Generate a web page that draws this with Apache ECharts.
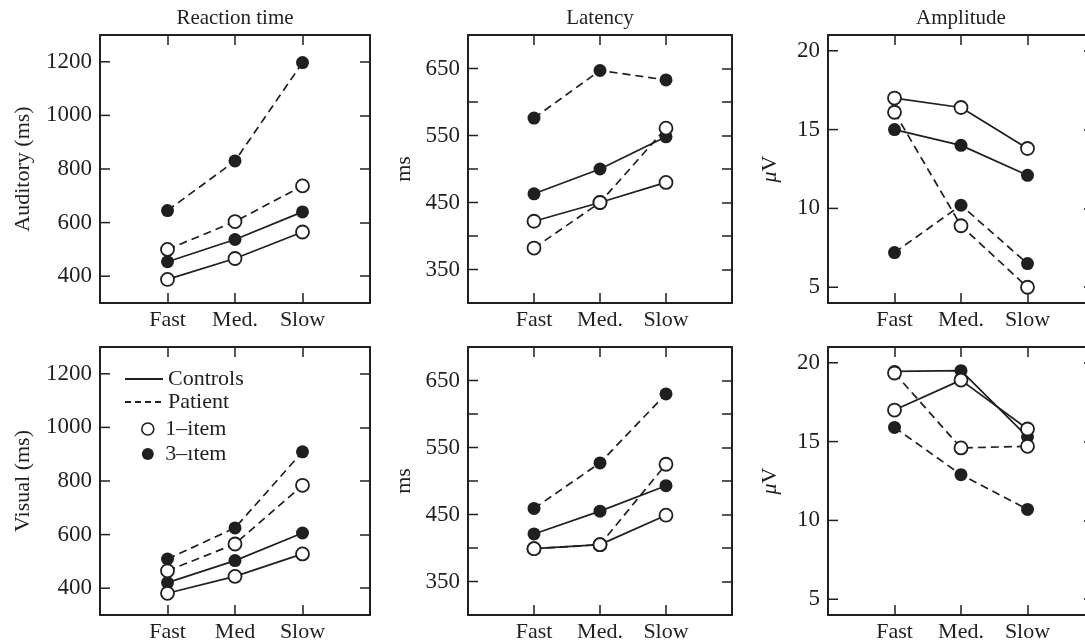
<!DOCTYPE html>
<html>
<head>
<meta charset="utf-8">
<script src="https://cdn.jsdelivr.net/npm/echarts@6/dist/echarts.min.js"></script>
<style>
  html, body { margin: 0; background: #fff; }
  #chart { width: 1085px; height: 642px; }
</style>
</head>
<body>
<div id="chart"></div>
<script>
  // x categories
  const categories = ['Fast', 'Med.', 'Slow']
  const categoriesVisRt = ['Fast', 'Med', 'Slow']

  // tick labels
  const rtTicks = [400, 600, 800, 1000, 1200]
  const latTicks = [350, 400, 450, 500, 550, 600, 650]
  const latLabels = [350, 450, 550, 650]
  const ampTicks = [5, 10, 15, 20]

  // Auditory - reaction time
  const audRtCtrl1 = [388, 466, 565]
  const audRtCtrl3 = [454, 537, 640]
  const audRtPat1 = [500, 604, 737]
  const audRtPat3 = [645, 830, 1197]
  // Auditory - latency
  const audLatCtrl1 = [422, 450, 480]
  const audLatCtrl3 = [463, 500, 548]
  const audLatPat1 = [382, 450, 561]
  const audLatPat3 = [576, 647, 633]
  // Auditory - amplitude
  const audAmpCtrl1 = [17.0, 16.4, 13.8]
  const audAmpCtrl3 = [15.0, 14.0, 12.1]
  const audAmpPat1 = [16.1, 8.9, 5.0]
  const audAmpPat3 = [7.2, 10.2, 6.5]

  // Visual - reaction time
  const visRtCtrl1 = [381, 444, 528]
  const visRtCtrl3 = [421, 503, 606]
  const visRtPat1 = [465, 565, 784]
  const visRtPat3 = [509, 625, 909]
  // Visual - latency
  const visLatCtrl1 = [399, 405, 449]
  const visLatCtrl3 = [421, 455, 493]
  const visLatPat1 = [399, 405, 525]
  const visLatPat3 = [459, 527, 630]
  // Visual - amplitude
  const visAmpCtrl1 = [17.0, 18.9, 15.8]
  const visAmpCtrl3 = [19.45, 19.5, 15.3]
  const visAmpPat1 = [19.35, 14.6, 14.7]
  const visAmpPat3 = [15.9, 12.9, 10.7]

  const ink = '#1f1f1f'
  const font = 'Liberation Serif'

  // panel layout: left, top, width
  const panels = [
    { left: 100, top: 35, width: 270, range: [300, 1300], ticks: rtTicks, labels: rtTicks, cats: categories,
      title: 'Reaction time', yName: 'Auditory (ms)', nameGap: 66,
      data: [audRtCtrl3, audRtPat3, audRtCtrl1, audRtPat1] },
    { left: 468, top: 35, width: 264, range: [300, 700], ticks: latTicks, labels: latLabels, cats: categories,
      title: 'Latency', yName: 'ms', nameGap: 53,
      data: [audLatCtrl3, audLatPat3, audLatCtrl1, audLatPat1] },
    { left: 828, top: 35, width: 266, range: [4, 21], ticks: ampTicks, labels: ampTicks, cats: categories,
      title: 'Amplitude', yName: '{i|μ}V', nameGap: 47,
      data: [audAmpCtrl3, audAmpPat3, audAmpCtrl1, audAmpPat1] },
    { left: 100, top: 347, width: 270, range: [300, 1300], ticks: rtTicks, labels: rtTicks, cats: categoriesVisRt,
      yName: 'Visual (ms)', nameGap: 66,
      data: [visRtCtrl3, visRtPat3, visRtCtrl1, visRtPat1] },
    { left: 468, top: 347, width: 264, range: [300, 700], ticks: latTicks, labels: latLabels, cats: categories,
      yName: 'ms', nameGap: 53,
      data: [visLatCtrl3, visLatPat3, visLatCtrl1, visLatPat1] },
    { left: 828, top: 347, width: 266, range: [4, 21], ticks: ampTicks, labels: ampTicks, cats: categories,
      yName: '{i|μ}V', nameGap: 47,
      data: [visAmpCtrl3, visAmpPat3, visAmpCtrl1, visAmpPat1] }
  ]

  // series kinds: [dashed, open]
  const kinds = [[false, false], [true, false], [false, true], [true, true]]

  const axisLine = { show: true, onZero: false, lineStyle: { color: ink, width: 2 } }
  const textStyle = { fontFamily: font, fontSize: 22, color: ink }
  const tickStyle = { color: ink, width: 1.5 }

  const grid = [], xAxis = [], yAxis = [], series = []

  panels.forEach((p, g) => {
    grid.push({ left: p.left, top: p.top, width: p.width, height: 268, outerBoundsMode: 'none' })
    // bottom + top x axes
    xAxis.push({
      type: 'value', gridIndex: g, min: 0, max: 4, position: 'bottom',
      axisLine: axisLine, splitLine: { show: false },
      axisTick: { inside: true, length: 10, customValues: [1, 2, 3], lineStyle: tickStyle },
      axisLabel: { customValues: [1, 2, 3], margin: 6, formatter: v => p.cats[v - 1], ...textStyle },
    })
    xAxis.push({
      type: 'value', gridIndex: g, min: 0, max: 4, position: 'top',
      name: p.title || '', nameLocation: 'middle', nameGap: 6,
      nameTextStyle: { fontFamily: font, fontSize: 21, color: ink },
      axisLine: axisLine, splitLine: { show: false },
      axisTick: { inside: true, length: 10, customValues: [1, 2, 3], lineStyle: tickStyle },
      axisLabel: { show: false }
    })
    // left axis with labels and name
    yAxis.push({
      type: 'value', gridIndex: g, min: p.range[0], max: p.range[1], position: 'left',
      name: p.yName, nameLocation: 'middle', nameGap: p.nameGap,
      nameTextStyle: { ...textStyle, rich: { i: { fontFamily: font, fontSize: 22, fontStyle: 'italic', color: ink } } },
      axisLine: axisLine, splitLine: { show: false },
      axisTick: { show: false },
      axisLabel: { customValues: p.labels, margin: 8, formatter: v => String(v), ...textStyle, fontSize: 23 }
    })
    // right border with tick marks
    yAxis.push({
      type: 'value', gridIndex: g, min: p.range[0], max: p.range[1], position: 'right',
      axisLine: axisLine, splitLine: { show: false },
      axisTick: { inside: true, length: 10, customValues: p.ticks, lineStyle: tickStyle },
      axisLabel: { show: false }
    })
    p.data.forEach((vals, k) => {
      const dashed = kinds[k][0], open = kinds[k][1]
      series.push({
        type: 'line',
        xAxisIndex: g * 2, yAxisIndex: g * 2,
        data: vals.map((v, i) => [i + 1, v]),
        symbol: 'circle', symbolSize: 13,
        lineStyle: { color: ink, width: 1.7, type: dashed ? [8, 5] : 'solid' },
        itemStyle: { color: open ? '#fff' : ink, borderColor: ink, borderWidth: open ? 1.8 : 0, opacity: 1 },
        emphasis: { disabled: true },
        z: open ? 3 : 2
      })
    })
    // inner tick marks on the left border, placed through the panel's own y scale
    series.push({
      type: 'custom',
      xAxisIndex: g * 2, yAxisIndex: g * 2,
      data: p.ticks.map(v => [0, v]),
      silent: true, clip: false, z: 5,
      renderItem: (params, api) => {
        const pt = api.coord([api.value(0), api.value(1)])
        return {
          type: 'line',
          shape: { x1: pt[0], y1: pt[1], x2: pt[0] + 10, y2: pt[1] },
          style: { stroke: ink, lineWidth: 1.5 }
        }
      }
    })
  })

  // empty series that only feed the legend key
  series.push(
    { name: 'Controls', type: 'line', xAxisIndex: 6, yAxisIndex: 6, data: [], symbol: 'none',
      lineStyle: { color: ink, width: 1.7, type: 'solid' }, itemStyle: { color: ink } },
    { name: 'Patient', type: 'line', xAxisIndex: 6, yAxisIndex: 6, data: [], symbol: 'none',
      lineStyle: { color: ink, width: 1.7, type: [6, 4] }, itemStyle: { color: ink } },
    { name: '1–item', type: 'scatter', xAxisIndex: 6, yAxisIndex: 6, data: [], symbol: 'circle',
      itemStyle: { color: '#fff', borderColor: ink, borderWidth: 1.6, opacity: 1 } },
    { name: '3–ıtem', type: 'scatter', xAxisIndex: 6, yAxisIndex: 6, data: [], symbol: 'circle',
      itemStyle: { color: ink, opacity: 1 } }
  )

  const option = {
    animation: false,
    backgroundColor: '#fff',
    legend: [
      {
        data: [
          { name: 'Controls', itemStyle: { opacity: 0 } },
          { name: 'Patient', itemStyle: { opacity: 0 } }
        ],
        orient: 'vertical', left: 124, top: 368,
        itemWidth: 38, itemHeight: 12, itemGap: 1, padding: 0, selectedMode: false,
        textStyle: textStyle
      },
      {
        data: [
          { name: '1–item', itemStyle: { color: '#fff', borderColor: ink, borderWidth: 1.6, opacity: 1 } },
          { name: '3–ıtem', itemStyle: { color: ink, borderWidth: 0, opacity: 1 } }
        ],
        orient: 'vertical', left: 141, top: 418,
        itemWidth: 25, itemHeight: 12, itemGap: 3, padding: 0, selectedMode: false,
        textStyle: textStyle
      }
    ],
    grid: grid,
    xAxis: xAxis,
    yAxis: yAxis,
    series: series
  }

  const chart = echarts.init(document.getElementById('chart'))
  chart.setOption(option)
</script>
</body>
</html>
